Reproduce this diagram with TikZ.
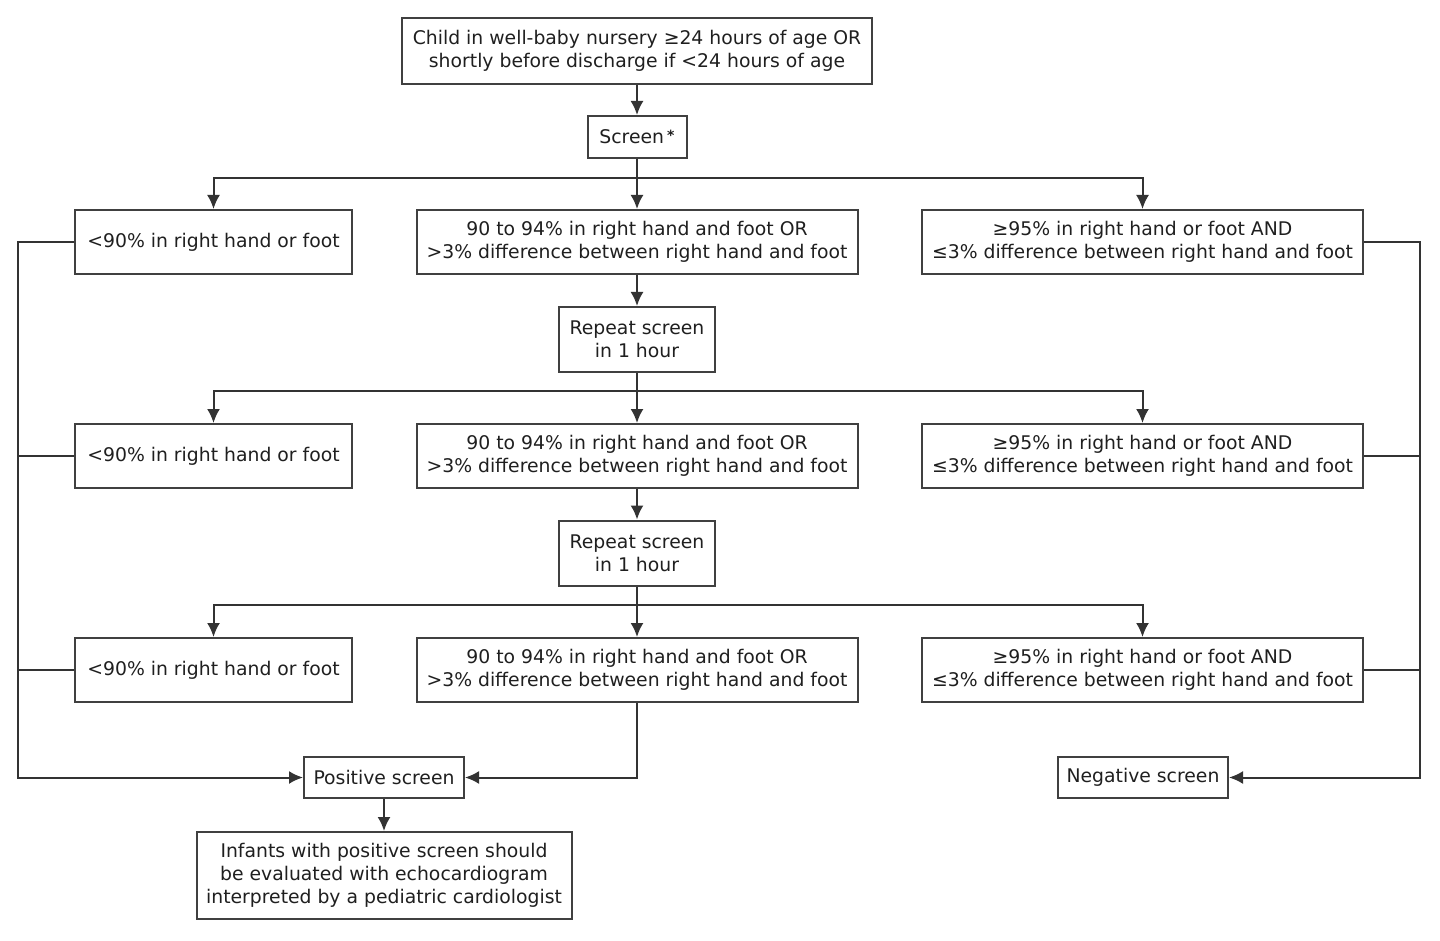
\documentclass[tikz,border=0pt]{standalone}
\usepackage{fontspec}
\setmainfont{DejaVu Sans}
\usepackage{tikz}
\usetikzlibrary{arrows.meta,positioning,calc}

\begin{document}
\begin{tikzpicture}[
    x={(0.5pt,0pt)}, y={(0pt,-0.5pt)},
    every node/.style={font=\fontsize{9.4}{11.5}\selectfont, text=black!88},
    box/.style={draw=black!75, line width=1pt, inner sep=0pt, align=center},
    link/.style={draw=black!80, line width=1pt},
    arr/.style={link, -{Latex[length=7pt, width=6.5pt]}},
  ]
    \useasboundingbox (0,0) rectangle (1440,941);

    % -------- entry --------
    \node[box, minimum width=235pt, minimum height=33pt] (child) at (637,51)
      {Child in well-baby nursery ≥24 hours of age OR\\shortly before discharge if <24 hours of age};
    \node[box, minimum width=49.5pt, minimum height=21pt] (screen) at (637,137)
      {Screen\,\raisebox{0.35ex}{\scriptsize\bfseries*}};
    \draw[arr] (child) -- (screen);

    % -------- three rounds of readings --------
    \foreach \r/\ry in {1/242, 2/456, 3/670} {
      \node[box, minimum width=138.5pt, minimum height=32pt] (low\r) at (213.5,\ry)
        {<90\% in right hand or foot};
      \node[box, minimum width=220.5pt, minimum height=32pt] (mid\r) at (637,\ry)
        {90 to 94\% in right hand and foot OR\\>3\% difference between right hand and foot};
      \node[box, minimum width=220.5pt, minimum height=32pt] (high\r) at (1142.5,\ry)
        {≥95\% in right hand or foot AND\\≤3\% difference between right hand and foot};
    }
    \node[box, minimum width=78pt, minimum height=32.5pt] (rep1) at (637,339.5)
      {Repeat screen\\in 1 hour};
    \node[box, minimum width=78pt, minimum height=32.5pt] (rep2) at (637,553)
      {Repeat screen\\in 1 hour};

    % branching buses
    \coordinate (bus1) at (637,178);
    \coordinate (bus2) at (637,391);
    \coordinate (bus3) at (637,605);
    \draw[link] (screen.south) -- (bus1);
    \draw[link] (rep1.south) -- (bus2);
    \draw[link] (rep2.south) -- (bus3);
    \foreach \r in {1,2,3} {
      \draw[arr] (bus\r) -- (mid\r.north);
      \draw[arr] (bus\r) -| (low\r.north);
      \draw[arr] (bus\r) -| (high\r.north);
    }
    \draw[arr] (mid1) -- (rep1);
    \draw[arr] (mid2) -- (rep2);

    % -------- outcomes --------
    \node[box, minimum width=80pt, minimum height=20.5pt] (pos) at (384,777.5)
      {Positive screen};
    \node[box, minimum width=85pt, minimum height=20.5pt] (neg) at (1143,777.5)
      {Negative screen};
    \node[box, minimum width=187.5pt, minimum height=43.5pt] (echo) at (384,875.5)
      {Infants with positive screen should\\be evaluated with echocardiogram\\interpreted by a pediatric cardiologist};

    \coordinate (lbus) at (18,777.5);
    \coordinate (rbus) at (1420,777.5);
    \draw[arr] (low1.west) -| (lbus) -- (pos.west);
    \draw[link] (low2.west) -- (low2.west -| lbus);
    \draw[link] (low3.west) -- (low3.west -| lbus);
    \draw[arr] (high1.east) -| (rbus) -- (neg.east);
    \draw[link] (high2.east) -- (high2.east -| rbus);
    \draw[link] (high3.east) -- (high3.east -| rbus);
    \draw[arr] (mid3.south) |- (pos.east);
    \draw[arr] (pos) -- (echo);
  \end{tikzpicture}
\end{document}
